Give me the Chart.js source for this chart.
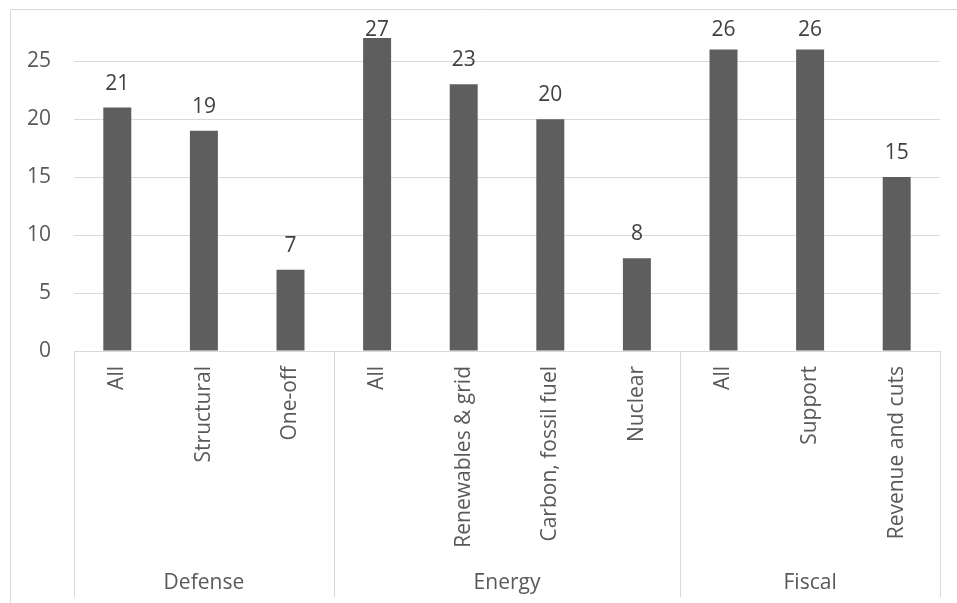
<!DOCTYPE html>
<html>
<head>
<meta charset="utf-8">
<title>Measures by area</title>
<script src="https://cdn.jsdelivr.net/npm/chart.js@4.4.1/dist/chart.umd.min.js"></script>
<style>
    html, body { margin: 0; padding: 0; background: #ffffff; }
    #wrap { width: 957px; height: 603px; position: relative; }
</style>
</head>
<body>
<div id="wrap"><canvas id="barChart"></canvas></div>
<script>
// ===================================
// Chart data
// ===================================
const GROUPS = ['Defense', 'Energy', 'Fiscal'];
const GROUP_SIZES = [3, 4, 3];
const CATEGORIES = ['All', 'Structural', 'One-off', 'All', 'Renewables & grid',
    'Carbon, fossil fuel', 'Nuclear', 'All', 'Support', 'Revenue and cuts'];
const VALUES = [21, 19, 7, 27, 23, 20, 8, 26, 26, 15];
const Y_TICKS = [0, 5, 10, 15, 20, 25];

const TEXT_COLOR = '#595959';
const LABEL_COLOR = '#404040';
const LINE_COLOR = '#d9d9d9';
const FONT = { family: 'Open Sans', size: 21 };

// Outer frame like the Excel chart border
const framePlugin = {
    id: 'frame',
    beforeDraw(chart) {
        const ctx = chart.ctx;
        ctx.save();
        ctx.strokeStyle = LINE_COLOR;
        ctx.lineWidth = 1;
        ctx.beginPath();
        ctx.moveTo(10.5, chart.height);
        ctx.lineTo(10.5, 9.5);
        ctx.lineTo(chart.width, 9.5);
        ctx.stroke();
        ctx.restore();
    }
};

// Second level of the category axis: group separators + group names
const groupAxisPlugin = {
    id: 'groupAxis',
    afterDraw(chart) {
        const ctx = chart.ctx;
        const x = chart.scales.x;
        const top = chart.chartArea.bottom;
        const bottom = 597;

        // boundaries between groups
        const edges = [x.left];
        let idx = 0;
        GROUP_SIZES.forEach((n, g) => {
            idx += n;
            if (g < GROUP_SIZES.length - 1) {
                edges.push((x.getPixelForTick(idx - 1) + x.getPixelForTick(idx)) / 2);
            }
        });
        edges.push(x.right);

        ctx.save();
        ctx.strokeStyle = LINE_COLOR;
        ctx.lineWidth = 1;
        edges.forEach(px => {
            const p = Math.round(px) + 0.5;
            ctx.beginPath();
            ctx.moveTo(p, top);
            ctx.lineTo(p, bottom);
            ctx.stroke();
        });

        ctx.fillStyle = TEXT_COLOR;
        ctx.font = FONT.size + 'px "' + FONT.family + '"';
        ctx.textAlign = 'center';
        ctx.textBaseline = 'middle';
        GROUPS.forEach((name, g) => {
            ctx.fillText(name, (edges[g] + edges[g + 1]) / 2, 583);
        });
        ctx.restore();
    }
};

// Value labels above each bar (kept inside the plot like Excel does)
const valueLabelPlugin = {
    id: 'valueLabels',
    afterDatasetsDraw(chart) {
        const ctx = chart.ctx;
        const meta = chart.getDatasetMeta(0);
        ctx.save();
        ctx.fillStyle = LABEL_COLOR;
        ctx.font = FONT.size + 'px "' + FONT.family + '"';
        ctx.textAlign = 'center';
        ctx.textBaseline = 'alphabetic';
        meta.data.forEach((bar, i) => {
            const y = Math.max(bar.y - 18, chart.chartArea.top + 27);
            ctx.fillText(String(VALUES[i]), bar.x, y);
        });
        ctx.restore();
    }
};

const ctx = document.getElementById('barChart').getContext('2d');

new Chart(ctx, {
    type: 'bar',
    data: {
        labels: CATEGORIES,
        datasets: [{
            data: VALUES,
            backgroundColor: '#5e5e5e',
            borderWidth: 0,
            barPercentage: 0.323,
            categoryPercentage: 1
        }]
    },
    options: {
        responsive: true,
        maintainAspectRatio: false,
        animation: false,
        layout: {
            padding: { left: 10, top: 9, right: 17, bottom: 0 }
        },
        plugins: {
            legend: { display: false },
            title: { display: false },
            tooltip: { enabled: false }
        },
        scales: {
            y: {
                min: 0,
                max: 29.5,
                afterBuildTicks(scale) {
                    scale.ticks = Y_TICKS.map(v => ({ value: v }));
                },
                afterFit(scale) {
                    scale.width = 64;
                    scale.paddingTop = 0;
                    scale.paddingBottom = 0;
                },
                ticks: {
                    color: TEXT_COLOR,
                    font: FONT,
                    padding: 23
                },
                grid: {
                    color: LINE_COLOR,
                    drawTicks: false
                },
                border: { display: false }
            },
            x: {
                afterFit(scale) {
                    scale.height = 252;
                    scale.paddingLeft = 0;
                    scale.paddingRight = 0;
                },
                ticks: {
                    color: TEXT_COLOR,
                    font: FONT,
                    autoSkip: false,
                    minRotation: 90,
                    maxRotation: 90,
                    padding: 15
                },
                grid: {
                    display: false,
                    drawTicks: false
                },
                border: { display: true, color: LINE_COLOR }
            }
        }
    },
    plugins: [framePlugin, groupAxisPlugin, valueLabelPlugin]
});
</script>
</body>
</html>
